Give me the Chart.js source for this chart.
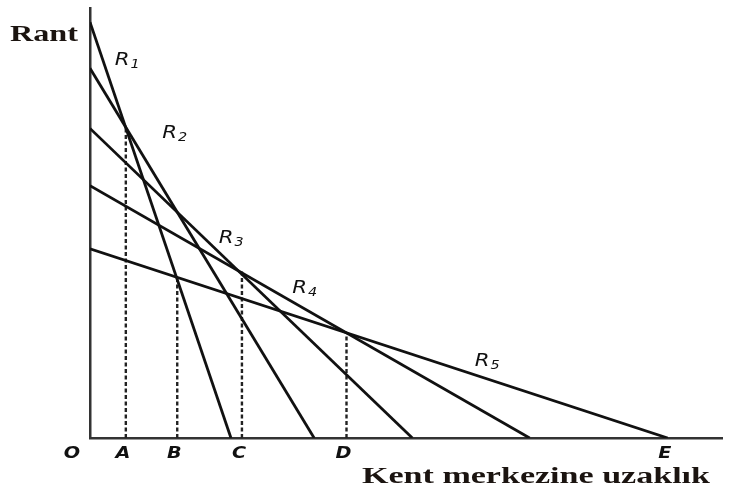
<!DOCTYPE html>
<html>
<head>
<meta charset="utf-8">
<script src="https://cdn.jsdelivr.net/npm/chart.js@4.4.1/dist/chart.umd.min.js"></script>
<style>
  html, body { margin: 0; padding: 0; background: #fff; }
  #wrap { width: 731px; height: 490px; }
</style>
</head>
<body>
<div id="wrap"><canvas id="myChart" width="731" height="490"></canvas></div>
<script>
// rent curves: value on the rent axis at distance 0, and distance where rent hits 0
var curveNames = ["R1", "R2", "R3", "R4", "R5"];
var rentAtCentre = [96.7, 86, 72, 58.7, 44];
var distAtZero = [24.4, 38.8, 55.8, 76.1, 100];

// dashed boundaries: distance and height where they stop
var boundNames = ["A", "B", "C", "D"];
var boundDist = [6.2, 15.1, 26.3, 44.4];
var boundTop = [72, 36.8, 38.8, 24.5];

// letters under the distance axis
var tickNames = ["O", "A", "B", "C", "D", "E"];
var tickDist = [0, 6.2, 15.1, 26.3, 44.4, 100];

var xMax = 109.4;
var yMax = 100;

var sets = [];
for (var i = 0; i < curveNames.length; i++) {
    sets.push({
        label: curveNames[i],
        data: [{x: 0, y: rentAtCentre[i]}, {x: distAtZero[i], y: 0}],
        showLine: true,
        borderColor: '#111',
        borderWidth: 2.8,
        pointRadius: 0
    });
}
for (var j = 0; j < boundNames.length; j++) {
    sets.push({
        label: boundNames[j],
        data: [{x: boundDist[j], y: 0}, {x: boundDist[j], y: boundTop[j]}],
        showLine: true,
        borderColor: '#222',
        borderWidth: 2.4,
        borderDash: [4, 2.5],
        pointRadius: 0
    });
}

// label spots for the curve names, in data units (left edge, baseline)
var nameSpots = [[4.3, 86.7], [12.5, 69.8], [22.3, 45.4], [35.0, 33.8], [66.6, 16.8]];

function stretchText(ctx, txt, x, y, sx) {
    ctx.save();
    ctx.translate(x, y);
    ctx.scale(sx, 1);
    ctx.fillText(txt, 0, 0);
    ctx.restore();
}

function fitText(ctx, txt, x, y, w) {
    var m = ctx.measureText(txt).width;
    stretchText(ctx, txt, x, y, w / m);
}

var textPlugin = {
    id: 'textPlugin',
    afterDraw: function(chart) {
        var ctx = chart.ctx;
        var xs = chart.scales.x, ys = chart.scales.y;
        ctx.save();
        ctx.fillStyle = '#111';
        ctx.textBaseline = 'alphabetic';
        ctx.textAlign = 'left';

        // curve names R1..R5 with small subscript
        for (var i = 0; i < curveNames.length; i++) {
            var px = xs.getPixelForValue(nameSpots[i][0]);
            var py = ys.getPixelForValue(nameSpots[i][1]);
            ctx.font = 'italic 17px "DejaVu Sans"';
            stretchText(ctx, 'R', px, py, 1.25);
            var rw = ctx.measureText('R').width * 1.25;
            ctx.font = 'italic 12px "DejaVu Sans"';
            stretchText(ctx, curveNames[i].slice(1), px + rw + 1, py + 3, 1.2);
        }

        // letters under the axis
        ctx.font = 'italic bold 16px "DejaVu Sans"';
        ctx.textAlign = 'center';
        var base = ys.getPixelForValue(0) + 20;
        for (var k = 0; k < tickNames.length; k++) {
            var tx = xs.getPixelForValue(tickDist[k]) - 3;
            if (tickNames[k] === 'O') tx = xs.getPixelForValue(0) - 18;
            stretchText(ctx, tickNames[k], tx, base, 1.2);
        }

        // axis titles
        ctx.textAlign = 'left';
        ctx.font = 'bold 24px "Liberation Serif"';
        ctx.fillStyle = '#1b1410';
        fitText(ctx, 'Rant', 10, 41, 68);
        fitText(ctx, 'Kent merkezine uzaklık', 362, 483, 348);
        ctx.restore();
    }
};

var ctx = document.getElementById('myChart').getContext('2d');
var chart = new Chart(ctx, {
    type: 'scatter',
    data: { datasets: sets },
    options: {
        responsive: false,
        animation: false,
        layout: { padding: { left: 90, right: 9, top: 8, bottom: 52 } },
        plugins: { legend: { display: false }, tooltip: { enabled: false } },
        scales: {
            x: {
                type: 'linear', min: 0, max: xMax,
                grid: { display: false, drawTicks: false },
                ticks: { display: false },
                border: { display: true, color: '#333', width: 2.5 }
            },
            y: {
                type: 'linear', min: 0, max: yMax,
                grid: { display: false, drawTicks: false },
                ticks: { display: false },
                border: { display: true, color: '#333', width: 2.5 }
            }
        },
        elements: { line: { tension: 0 } }
    },
    plugins: [textPlugin]
});
</script>
</body>
</html>
